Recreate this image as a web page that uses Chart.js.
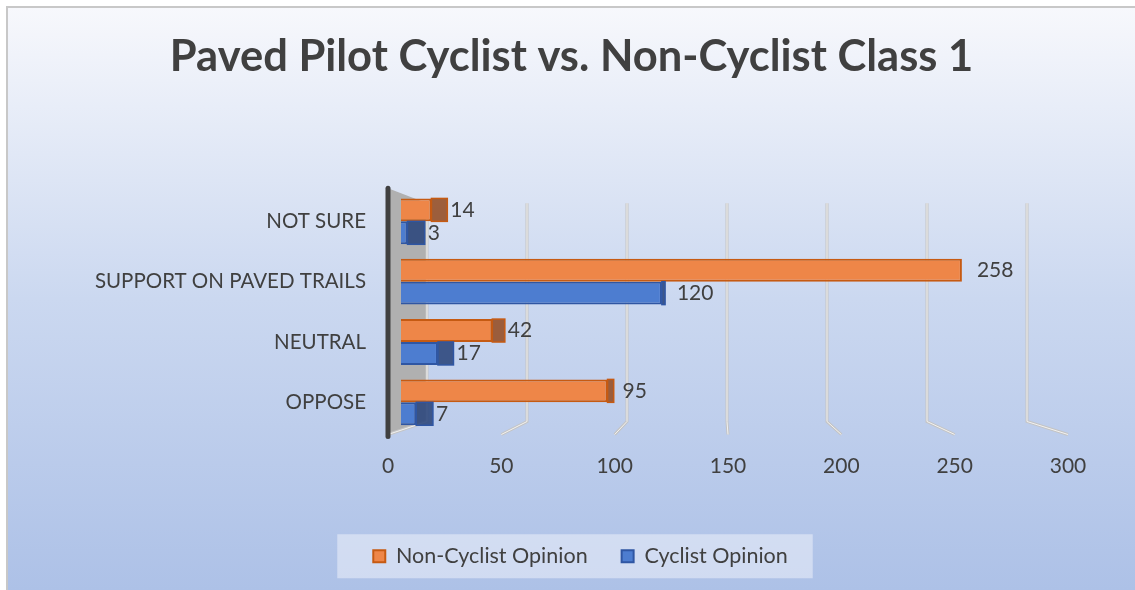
<!DOCTYPE html>
<html>
<head>
<meta charset="utf-8">
<title>Paved Pilot Cyclist vs. Non-Cyclist Class 1</title>
<script src="https://cdn.jsdelivr.net/npm/chart.js@4.4.0/dist/chart.umd.min.js"></script>
<style>
    html, body { margin: 0; padding: 0; background: #ffffff; }
    #wrap {
        position: absolute; left: 6px; top: 6px;
        border-left: 2px solid #c8c8c8; border-top: 2px solid #c8c8c8;
    }
    canvas { display: block; }
</style>
</head>
<body>
<div id="wrap"><canvas id="chart" width="1127" height="582" style="width:1127px;height:582px"></canvas></div>
<script>
// Chart data
const categories = ['NOT SURE', 'SUPPORT ON PAVED TRAILS', 'NEUTRAL', 'OPPOSE'];
const nonCyclist = [14, 258, 42, 95];
const cyclist = [3, 120, 17, 7];
const seriesNames = ['Non-Cyclist Opinion', 'Cyclist Opinion'];

const FONT = "Lato, 'Open Sans', sans-serif";
const TEXT = '#404040';

// Background gradient + legend panel
const backgroundPlugin = {
    id: 'background',
    afterLayout(chart) {
        // legend sits a little right of centre in the original
        const lg = chart.legend;
        if (!lg) return;
        lg.left += 9;
        lg.right += 9;
        (lg.legendHitBoxes || []).forEach(b => { b.left += 9; });
    },
    beforeDraw(chart) {
        const { ctx, width, height } = chart;
        const g = ctx.createLinearGradient(0, 0, 0, height);
        g.addColorStop(0, '#f7f8fc');
        g.addColorStop(0.5, '#cbd8f0');
        g.addColorStop(1, '#adc1e7');
        ctx.save();
        ctx.fillStyle = g;
        ctx.fillRect(0, 0, width, height);

        const boxes = chart.legend && chart.legend.legendHitBoxes;
        if (boxes && boxes.length) {
            const left = Math.min(...boxes.map(b => b.left)) - 36;
            const right = Math.max(...boxes.map(b => b.left + b.width)) + 25;
            const cy = boxes[0].top + boxes[0].height / 2;
            ctx.fillStyle = 'rgba(236, 241, 250, 0.55)';
            ctx.fillRect(left, cy - 22, right - left, 44);
        }
        ctx.restore();
    }
};

// 3D-ish wall, floor gridlines and left axis line
const wallPlugin = {
    id: 'wall',
    beforeDatasetsDraw(chart) {
        const { ctx, chartArea: a, scales } = chart;
        const fx = scales.x, bx = scales.xback;
        const backTop = a.top + 12, backBot = a.bottom - 11, front = a.bottom + 2;
        const f0 = fx.getPixelForValue(0), b0 = bx.getPixelForValue(0);
        ctx.save();
        ctx.fillStyle = '#b0b0b0';
        ctx.beginPath();
        ctx.moveTo(f0, a.top - 3);
        ctx.lineTo(b0, backTop);
        ctx.lineTo(b0, backBot);
        ctx.lineTo(f0, front);
        ctx.closePath();
        ctx.fill();

        fx.ticks.forEach(t => {
            const b = bx.getPixelForValue(t.value);
            const f = fx.getPixelForValue(t.value);
            ctx.beginPath();
            ctx.moveTo(b, backTop);
            ctx.lineTo(b, backBot);
            ctx.lineTo(f, front);
            ctx.strokeStyle = '#c4c4c4';
            ctx.lineWidth = 3;
            ctx.stroke();
            ctx.strokeStyle = '#f2f2f2';
            ctx.lineWidth = 1;
            ctx.stroke();
        });

        ctx.strokeStyle = '#404040';
        ctx.lineWidth = 5;
        ctx.lineCap = 'round';
        ctx.beginPath();
        ctx.moveTo(f0, a.top - 3);
        ctx.lineTo(f0, front + 2);
        ctx.stroke();
        ctx.restore();
    }
};

// End caps of the bars and value labels
const capColors = ['rgba(150, 80, 40, 0.9)', 'rgba(45, 72, 125, 0.9)'];
const edgeColors = ['#c65a12', '#2f56a3'];
const barLabelPlugin = {
    id: 'barLabels',
    afterDatasetsDraw(chart) {
        const { ctx } = chart;
        const vanish = 712;
        ctx.save();
        ctx.font = `21px ${FONT}`;
        ctx.textAlign = 'left';
        ctx.textBaseline = 'middle';
        chart.data.datasets.forEach((ds, di) => {
            const meta = chart.getDatasetMeta(di);
            meta.data.forEach((bar, i) => {
                const { x, y, height } = bar.getProps(['x', 'y', 'height'], true);
                const cap = Math.max(0, (vanish - x) * 0.055);
                if (cap > 0) {
                    ctx.fillStyle = capColors[di];
                    ctx.fillRect(x, y - height / 2, cap, height);
                    ctx.strokeStyle = edgeColors[di];
                    ctx.lineWidth = 1.5;
                    ctx.strokeRect(x, y - height / 2, cap, height);
                }
                ctx.fillStyle = TEXT;
                ctx.fillText(String(ds.data[i]), Math.max(x + 15, x + cap + 3), y);
            });
        });
        ctx.restore();
    }
};

const ctx = document.getElementById('chart');
new Chart(ctx, {
    type: 'bar',
    data: {
        labels: categories,
        datasets: [
            {
                label: seriesNames[0],
                data: nonCyclist,
                xAxisID: 'xbar',
                backgroundColor: '#ee8648',
                borderColor: edgeColors[0],
                borderWidth: 2,
                categoryPercentage: 0.76,
                barPercentage: 1.0
            },
            {
                label: seriesNames[1],
                data: cyclist,
                xAxisID: 'xbar',
                backgroundColor: '#4d7dd0',
                borderColor: edgeColors[1],
                borderWidth: 2,
                categoryPercentage: 0.76,
                barPercentage: 1.0
            }
        ]
    },
    options: {
        indexAxis: 'y',
        responsive: false,
        animation: false,
        layout: { padding: { left: 0, right: 0, top: 0, bottom: 13 } },
        scales: {
            x: {
                type: 'linear',
                position: 'bottom',
                min: 0,
                max: 300,
                ticks: { stepSize: 50, padding: 21, color: TEXT, font: { family: FONT, size: 21 } },
                grid: { display: false, drawTicks: false },
                border: { display: false },
                afterFit(scale) { scale.height = 79; }
            },
            xbar: { type: 'linear', display: false, min: -5.98, max: 306.8 },
            xback: { type: 'linear', display: false, min: -19.5, max: 320.5 },
            y: {
                ticks: { padding: 22, color: TEXT, font: { family: FONT, size: 20.5 } },
                grid: { display: false, drawTicks: false },
                border: { display: false },
                afterFit(scale) { scale.width = 380; }
            },
            yr: {
                type: 'category',
                position: 'right',
                ticks: { display: false },
                grid: { display: false, drawTicks: false },
                border: { display: false },
                afterFit(scale) { scale.width = 67; }
            }
        },
        plugins: {
            title: {
                display: true,
                text: 'Paved Pilot Cyclist vs. Non-Cyclist Class 1',
                color: TEXT,
                font: { family: FONT, size: 43.5, weight: 'bold' },
                padding: { top: 23, bottom: 108 }
            },
            legend: {
                position: 'bottom',
                labels: {
                    boxWidth: 12,
                    boxHeight: 12,
                    padding: 34,
                    color: TEXT,
                    font: { family: FONT, size: 21.5 }
                }
            },
            tooltip: { enabled: false }
        }
    },
    plugins: [backgroundPlugin, wallPlugin, barLabelPlugin]
});
</script>
</body>
</html>
